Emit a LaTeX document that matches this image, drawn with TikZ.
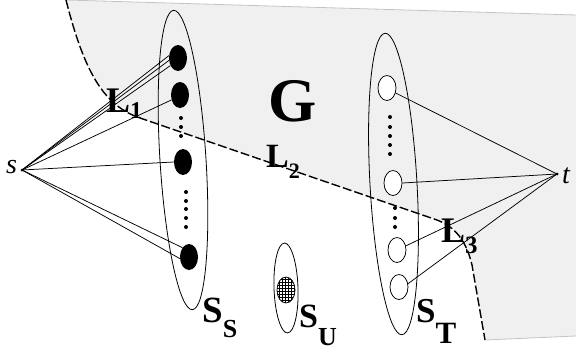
\documentclass[tikz,border=0pt]{standalone}
\usepackage{fontspec}
\setmainfont{Liberation Serif}
\usetikzlibrary{shapes.geometric,patterns}
\definecolor{regionfill}{HTML}{F0F0F0}
\definecolor{regionedge}{HTML}{C4C4C4}
\begin{document}
\begin{tikzpicture}[x=1pt,y=-1pt,
  conn/.style={line width=0.75pt},
  blacknode/.style={ellipse,fill=black,minimum width=18pt,minimum height=26pt,inner sep=0pt},
  whitenode/.style={ellipse,draw=black,fill=white,line width=0.75pt,minimum width=18pt,minimum height=25pt,inner sep=0pt},
  vdot/.style={circle,fill=black,minimum size=4pt,inner sep=0pt},
  grp/.style={ellipse,draw=black,line width=0.8pt,inner sep=0pt},
  lab/.style={inner sep=0pt,anchor=base west,font=\bfseries},
  ilab/.style={inner sep=0pt,anchor=base west,font=\itshape\fontsize{28}{28}\selectfont},
  boundary/.style={draw=black,line width=1.4pt,dash pattern=on 9pt off 3pt},
]
\useasboundingbox (0,0) rectangle (576,351);
% region G
\fill[regionfill] (66,0) -- (576,15) -- (576,336) -- (485,340) -- (472,265)
  .. controls (466,240) and (455,227) .. (437,220) -- (140,118)
  .. controls (105,106) and (85,75) .. (66,0) -- cycle;
\draw[regionedge,line width=0.8pt] (66,0) -- (576,15);
\draw[regionedge,line width=0.8pt] (485,340) -- (576,336);
\draw[boundary] (66,0) .. controls (85,75) and (105,106) .. (140,118) -- (437,220)
  .. controls (455,227) and (466,240) .. (472,265) -- (485,340);
% group ellipses
\node[grp,minimum width=46pt,minimum height=300pt,rotate=3.6] (SSg) at (183,160) {};
\node[grp,minimum width=47pt,minimum height=302pt,rotate=3.2] (STg) at (393.5,184) {};
\node[grp,fill=white,minimum width=24pt,minimum height=90pt,rotate=2] (SUg) at (286,288) {};
% source and sink
\node[circle,fill=black,minimum size=3pt,inner sep=0pt] (s) at (22,170) {};
\node[circle,fill=black,minimum size=3pt,inner sep=0pt] (t) at (557,174) {};
% S_S nodes
\node[blacknode] (a1) at (178,58) {};
\node[blacknode] (a2) at (180,95) {};
\node[blacknode] (a3) at (183,162) {};
\node[blacknode] (a4) at (189,257) {};
\foreach \y [count=\i] in {118,127,136} \node[vdot] (ad\i) at (181,\y) {};
\foreach \y [count=\i] in {192,201,209,218,227} \node[vdot] (ae\i) at (186,\y) {};
% S_T nodes
\node[whitenode] (b1) at (387,88) {};
\node[whitenode] (b2) at (393,183) {};
\node[whitenode] (b3) at (397,250) {};
\node[whitenode] (b4) at (399,287) {};
\foreach \y [count=\i] in {117,127,136,145,154} \node[vdot] (bd\i) at (390,\y) {};
\foreach \y [count=\i] in {208,218,227} \node[vdot] (be\i) at (395,\y) {};
% S_U node
\node[ellipse,draw=black,line width=0.75pt,pattern=grid,minimum width=18pt,minimum height=26pt,inner sep=0pt] (u1) at (286,290) {};
% connectors
\draw[conn] (s.center) -- (a1.165);
\draw[conn] (s.center) -- (a1.195);
\draw[conn] (s.center) -- (a1.225);
\draw[conn] (s.center) -- (a2.210);
\draw[conn] (s.center) -- (a3.west);
\draw[conn] (s.center) -- (a4.125);
\draw[conn] (s.center) -- (a4.190);
\draw[conn] (t.center) -- (b1.-30);
\draw[conn] (t.center) -- (b2.east);
\draw[conn] (t.center) -- (b3.25);
\draw[conn] (t.center) -- (b4.20);
% labels
\node[ilab] (slab) at (6,173) {s};
\node[ilab] (tlab) at (562,183) {t};
\node[lab,font=\bfseries\fontsize{62}{62}\selectfont] (G) at (268,121) {G};
\node[lab] (L1) at (106,112) {\fontsize{36}{36}\selectfont L\raisebox{-6pt}{\fontsize{24}{24}\selectfont 1}};
\node[lab] (L2) at (266,167) {\fontsize{34}{34}\selectfont L\raisebox{-11pt}{\fontsize{22}{22}\selectfont 2}};
\node[lab] (L3) at (441,242) {\fontsize{36}{36}\selectfont L\raisebox{-11pt}{\fontsize{25}{25}\selectfont 3}};
\node[lab] (SS) at (202,322) {\fontsize{37}{37}\selectfont S\raisebox{-15pt}{\fontsize{26}{26}\selectfont S}};
\node[lab] (SU) at (299,327) {\fontsize{34}{34}\selectfont S\raisebox{-18pt}{\fontsize{26}{26}\selectfont U}};
\node[lab] (ST) at (416,322) {\fontsize{35}{35}\selectfont S\raisebox{-21pt}{\fontsize{31}{31}\selectfont T}};
\end{tikzpicture}
\end{document}
